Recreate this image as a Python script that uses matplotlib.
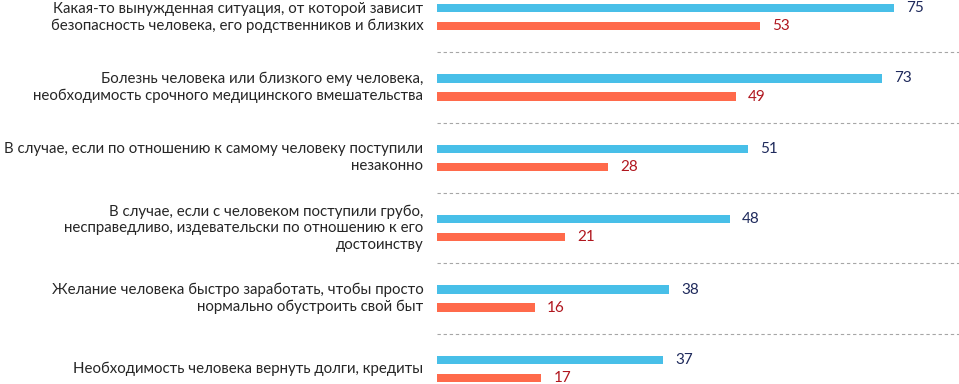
import matplotlib
matplotlib.use("Agg")
import matplotlib.pyplot as plt

categories = [
    "Какая-то вынужденная ситуация, от которой зависит\nбезопасность человека, его родственников и близких",
    "Болезнь человека или близкого ему человека,\nнеобходимость срочного медицинского вмешательства",
    "В случае, если по отношению к самому человеку поступили\nнезаконно",
    "В случае, если с человеком поступили грубо,\nнесправедливо, издевательски по отношению к его\nдостоинству",
    "Желание человека быстро заработать, чтобы просто\nнормально обустроить свой быт",
    "Необходимость человека вернуть долги, кредиты",
]
series_blue = [75, 73, 51, 48, 38, 37]
series_red = [53, 49, 28, 21, 16, 17]

BLUE = "#48BFE8"
RED = "#FF6A4B"
BLUE_TXT = "#1F2A5C"
RED_TXT = "#B0161E"

plt.rcParams['font.family'] = ['Lato', 'DejaVu Sans']

fig = plt.figure(figsize=(9.59, 3.84), dpi=100)
ax = fig.add_axes([437.3 / 959, 0, 1 - 437.3 / 959, 1])

off = 0.1286
h = 0.12
n = len(categories)
ys = list(range(n))
ax.barh([y - off for y in ys], series_blue, height=h, color=BLUE)
ax.barh([y + off for y in ys], series_red, height=h, color=RED)

for y, v in zip(ys, series_blue):
    ax.annotate(str(v), (v, y - off), xytext=(9, 0), textcoords='offset points',
                va='center', ha='left', fontsize=11, color=BLUE_TXT)
for y, v in zip(ys, series_red):
    ax.annotate(str(v), (v, y + off), xytext=(9, 0), textcoords='offset points',
                va='center', ha='left', fontsize=11, color=RED_TXT)

for y in ys[:-1]:
    ax.axhline(y + 0.5, color='#A6A6A6', lw=0.8, ls=(0, (3, 2.5)))

for y, lab in zip(ys, categories):
    ax.annotate(lab, (0, y), xytext=(-10, 0), textcoords='offset points',
                va='center', ha='right', fontsize=10.85, color='#262626',
                multialignment='right', linespacing=1.25, annotation_clip=False)

ax.set_xlim(0, (959 - 437.3) / 6.09)
ax.set_ylim(5.214, -0.243)
ax.axis('off')

fig.savefig("out.png", dpi=100)
